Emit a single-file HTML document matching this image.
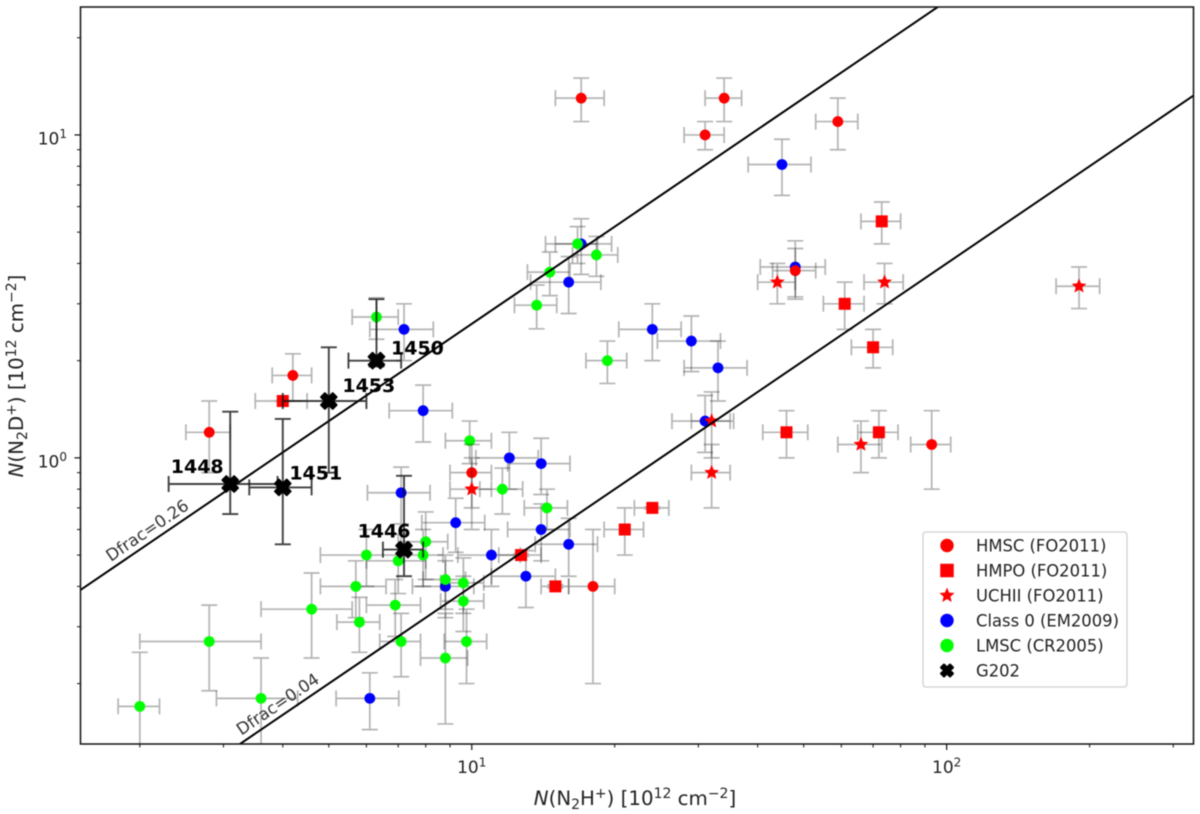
<!DOCTYPE html>
<html lang="en">
<head>
<meta charset="utf-8">
<title>N2D+ versus N2H+ column density</title>
<style>
  html, body { margin: 0; padding: 0; background: #fff; }
  body { width: 1200px; height: 814px; overflow: hidden; }
  svg { display: block; filter: blur(0.5px); font-family: "DejaVu Sans", "Liberation Sans", sans-serif; }
</style>
</head>
<body>
<svg id="chart" xmlns="http://www.w3.org/2000/svg" width="1200" height="814" viewBox="0 0 1200 814">
  <defs>
    <clipPath id="plot-clip"><rect x="80.5" y="7" width="1113" height="737"></rect></clipPath>
  </defs>
  <rect x="80.5" y="7" width="1113" height="737" fill="#fff"></rect>
  <g id="error-layer" clip-path="url(#plot-clip)"></g>
  <g id="line-layer" clip-path="url(#plot-clip)"></g>
  <g id="g202-layer" clip-path="url(#plot-clip)"></g>
  <g id="label-layer"></g>
  <rect x="80.5" y="7" width="1113" height="737" fill="none" stroke="#111" stroke-width="1.5"></rect>
  <g id="axis-layer"></g>
  <text x="635" y="805" text-anchor="middle" font-size="19.8" fill="#222"><tspan font-style="italic">N</tspan>(N<tspan font-size="14" dy="4">2</tspan><tspan dy="-4">H</tspan><tspan font-size="14" dy="-7">+</tspan><tspan dy="7">) [10</tspan><tspan font-size="14" dy="-7">12</tspan><tspan dy="7"> cm</tspan><tspan font-size="14" dy="-7">−2</tspan><tspan dy="7">]</tspan></text>
  <text transform="translate(23 376) rotate(-90)" text-anchor="middle" font-size="19.8" fill="#222"><tspan font-style="italic">N</tspan>(N<tspan font-size="14" dy="4">2</tspan><tspan dy="-4">D</tspan><tspan font-size="14" dy="-7">+</tspan><tspan dy="7">) [10</tspan><tspan font-size="14" dy="-7">12</tspan><tspan dy="7"> cm</tspan><tspan font-size="14" dy="-7">−2</tspan><tspan dy="7">]</tspan></text>
  <g id="legend"></g>
</svg>
<script>
// ---- chart data (values in units of 10^12 cm^-2) ----
const hmscX = [17, 34, 31, 59, 48, 4.2, 2.8, 10, 18, 93];
const hmscY = [13, 13, 10, 11, 3.8, 1.8, 1.2, 0.9, 0.4, 1.1];
const hmscXErr = [2, 3, 3, 6, 5, 0.4, 0.3, 1, 2, 9];
const hmscYErr = [2, 2, 1, 2, 0.65, 0.3, 0.3, 0.2, 0.2, 0.3];

const hmpoX = [73, 61, 70, 46, 72, 24, 21, 12.7, 15, 4];
const hmpoY = [5.4, 3, 2.2, 1.2, 1.2, 0.7, 0.6, 0.5, 0.4, 1.5];
const hmpoXErr = [7, 6, 7, 5, 7, 2, 2, 1.3, 1, 0.5];
const hmpoYErr = [0.8, 0.5, 0.3, 0.2, 0.2, 0.005, 0.1, 0.005, 0.005, 0.005];

const uchiiX = [44, 74, 190, 32, 32, 66, 10];
const uchiiY = [3.5, 3.5, 3.4, 1.3, 0.9, 1.1, 0.8];
const uchiiXErr = [4, 7, 20, 3, 3, 7, 1];
const uchiiYErr = [0.5, 0.5, 0.5, 0.3, 0.2, 0.2, 0.2];

const class0X = [45, 48, 17, 16, 24, 29, 33, 31, 7.2, 7.9, 7.1, 9.25, 12, 14, 14, 16, 11, 13, 8.8, 6.1];
const class0Y = [8.1, 3.9, 4.6, 3.5, 2.5, 2.3, 1.9, 1.3, 2.5, 1.4, 0.78, 0.63, 1, 0.96, 0.6, 0.54, 0.5, 0.43, 0.4, 0.18];
const class0XErr = [6.8, 7.5, 2.7, 2.7, 3.6, 4.4, 5, 4.6, 1.1, 1.2, 1.07, 1.4, 1.8, 2.1, 2.1, 2.4, 1.65, 2, 1.3, 0.92];
const class0YErr = [1.6, 0.8, 0.9, 0.7, 0.5, 0.45, 0.4, 0.26, 0.5, 0.28, 0.156, 0.12, 0.2, 0.19, 0.12, 0.11, 0.1, 0.086, 0.08, 0.036];

const lmscX = [16.7, 18.3, 14.6, 13.7, 19.3, 6.3, 9.9, 11.6, 14.4, 8, 6, 7, 7.9, 5.7, 5.8, 4.6, 2.8, 3.6, 2, 7.1, 8.8, 9.6, 9.6, 9.75, 8.8, 6.9];
const lmscY = [4.6, 4.25, 3.76, 2.97, 2, 2.73, 1.13, 0.8, 0.7, 0.55, 0.5, 0.48, 0.5, 0.4, 0.31, 0.34, 0.27, 0.18, 0.17, 0.27, 0.42, 0.41, 0.36, 0.27, 0.24, 0.35];
const lmscXErr = [1.7, 2, 1.5, 1.4, 1.9, 0.7, 1.1, 1.2, 1.5, 0.9, 1.2, 1, 0.8, 0.9, 0.6, 1, 0.8, 0.7, 0.2, 0.7, 0.9, 1, 1, 1, 1, 0.9];
const lmscYErr = [0.6, 0.6, 0.58, 0.46, 0.3, 0.4, 0.17, 0.13, 0.1, 0.13, 0.1, 0.1, 0.1, 0.08, 0.06, 0.1, 0.08, 0.06, 0.08, 0.06, 0.08, 0.08, 0.07, 0.07, 0.09, 0.07];

const g202Labels = ["1448", "1451", "1453", "1450", "1446"];
const g202X = [3.1, 4, 5, 6.3, 7.2];
const g202Y = [0.83, 0.81, 1.5, 2, 0.52];
const g202XErr = [0.8, 0.6, 1, 0.8, 0.7];
const g202YErrLow = [0.16, 0.27, 0.6, 0.08, 0.09];
const g202YErrHigh = [0.56, 0.51, 0.7, 1.1, 0.36];

const dfracValues = [0.26, 0.04];
const dfracLabelH = [2.14, 4.03];

const xDomain = [1.5, 331];
const yDomain = [0.13, 24.9];
const xMajorTicks = [10, 100];
const xMajorExponents = ["1", "2"];
const xMinorTicks = [2, 3, 4, 5, 6, 7, 8, 9, 20, 30, 40, 50, 60, 70, 80, 90, 200, 300];
const yMajorTicks = [1, 10];
const yMajorExponents = ["0", "1"];
const yMinorTicks = [0.2, 0.3, 0.4, 0.5, 0.6, 0.7, 0.8, 0.9, 2, 3, 4, 5, 6, 7, 8, 9, 20];

const legendLabels = ["HMSC (FO2011)", "HMPO (FO2011)", "UCHII (FO2011)", "Class 0 (EM2009)", "LMSC (CR2005)", "G202"];

// ---- axis functions ----
const NS = "http://www.w3.org/2000/svg";
const xPx = [80.5, 1193.5];
const yPx = [744, 7];
function xScale(v) {
  return xPx[0] + (xPx[1] - xPx[0]) * Math.log10(v / xDomain[0]) / Math.log10(xDomain[1] / xDomain[0]);
}
function yScale(v) {
  return yPx[0] + (yPx[1] - yPx[0]) * Math.log10(v / yDomain[0]) / Math.log10(yDomain[1] / yDomain[0]);
}
function make(tag, attrs, parent) {
  const node = document.createElementNS(NS, tag);
  for (const k in attrs) node.setAttribute(k, attrs[k]);
  parent.appendChild(node);
  return node;
}
function starPoints(cx, cy, r) {
  const pts = [];
  for (let i = 0; i < 10; i++) {
    const rad = i % 2 === 0 ? r : r * 0.45;
    const a = -Math.PI / 2 + i * Math.PI / 5;
    pts.push((cx + rad * Math.cos(a)).toFixed(2) + "," + (cy + rad * Math.sin(a)).toFixed(2));
  }
  return pts.join(" ");
}
function xPoints(cx, cy, s) {
  const shape = [[-1,-2],[0,-1],[1,-2],[2,-1],[1,0],[2,1],[1,2],[0,1],[-1,2],[-2,1],[-1,0],[-2,-1]];
  return shape.map(function (p) { return (cx + p[0] * s).toFixed(2) + "," + (cy + p[1] * s).toFixed(2); }).join(" ");
}
function drawMarker(kind, cx, cy, color, parent, big) {
  let node;
  if (kind === "circle") {
    node = make("circle", { cx: cx, cy: cy, r: big ? 6.7 : 5.4, fill: color }, parent);
  } else if (kind === "square") {
    const s = big ? 13.5 : 12;
    node = make("rect", { x: cx - s / 2, y: cy - s / 2, width: s, height: s, fill: color }, parent);
  } else if (kind === "star") {
    node = make("polygon", { points: starPoints(cx, cy, big ? 8 : 7.8), fill: color }, parent);
  } else {
    node = make("polygon", { points: xPoints(cx, cy, big ? 3 : 3.9), fill: color, stroke: color, "stroke-width": 2, "stroke-linejoin": "round" }, parent);
  }
  return node;
}
function drawErrorBars(px, py, left, right, top, bottom, color, opacity, width, parent) {
  const cap = 8;
  const path = [
    "M", left, py, "L", right, py,
    "M", px, top, "L", px, bottom,
    "M", left, py - cap, "L", left, py + cap,
    "M", right, py - cap, "L", right, py + cap,
    "M", px - cap, top, "L", px + cap, top,
    "M", px - cap, bottom, "L", px + cap, bottom
  ].join(" ");
  return make("path", { d: path, fill: "none", stroke: color, "stroke-opacity": opacity, "stroke-width": width }, parent);
}
function drawSeries(key, kind, color, xs, ys, xErr, yLow, yHigh, barColor, barOpacity, barWidth, layerId) {
  const layer = document.getElementById(layerId);
  const group = make("g", {}, layer);
  
  
  xs.forEach(function (xv, i) {
    const px = xScale(xv);
    const py = yScale(ys[i]);
    const left = xScale(Math.max(xv - xErr[i], 0.01));
    const right = xScale(xv + xErr[i]);
    const top = yScale(ys[i] + yHigh[i]);
    const bottom = yScale(Math.max(ys[i] - yLow[i], 0.001));
    const bar = drawErrorBars(px, py, left, right, top, bottom, barColor, barOpacity, barWidth, group);
    
    
  });
  xs.forEach(function (xv, i) {
    const mark = drawMarker(kind, xScale(xv), yScale(ys[i]), color, group, false);
    
    
  });
}

// draw order: blue and green below red, G202 on top
drawSeries("class-0", "circle", "#0000ff", class0X, class0Y, class0XErr, class0YErr, class0YErr, "#222", 0.34, 1.7, "error-layer");
drawSeries("lmsc", "circle", "#00ff00", lmscX, lmscY, lmscXErr, lmscYErr, lmscYErr, "#222", 0.34, 1.7, "error-layer");
drawSeries("hmsc", "circle", "#ff0000", hmscX, hmscY, hmscXErr, hmscYErr, hmscYErr, "#222", 0.34, 1.7, "error-layer");
drawSeries("hmpo", "square", "#ff0000", hmpoX, hmpoY, hmpoXErr, hmpoYErr, hmpoYErr, "#222", 0.34, 1.7, "error-layer");
drawSeries("uchii", "star", "#ff0000", uchiiX, uchiiY, uchiiXErr, uchiiYErr, uchiiYErr, "#222", 0.34, 1.7, "error-layer");

// Dfrac reference lines: N(N2D+) = Dfrac * N(N2H+)
const lineLayer = document.getElementById("line-layer");
const labelLayer = document.getElementById("label-layer");
const lineSlopeAngle = Math.atan2(yScale(1) - yScale(10), xScale(10) - xScale(1)) * 180 / Math.PI;
dfracValues.forEach(function (d, i) {
  const line = make("line", {
    x1: xScale(xDomain[0]), y1: yScale(d * xDomain[0]),
    x2: xScale(xDomain[1]), y2: yScale(d * xDomain[1]),
    stroke: "#000", "stroke-width": 2
  }, lineLayer);
  
  
  const lx = xScale(dfracLabelH[i]);
  const ly = yScale(d * dfracLabelH[i]);
  const label = make("text", {
    transform: "translate(" + lx + " " + ly + ") rotate(" + (-lineSlopeAngle) + ")",
    "text-anchor": "middle", y: -6, "font-size": 16.6, fill: "#333"
  }, labelLayer);
  label.textContent = "Dfrac=" + d.toFixed(2);
  
  
});

// G202 on top of lines
drawSeries("g202", "x", "#000000", g202X, g202Y, g202XErr, g202YErrLow, g202YErrHigh, "#111", 0.8, 1.9, "g202-layer");
g202Labels.forEach(function (txt, i) {
  const shift = [[-33, -11], [33, -8], [40, -9], [41, -6], [-20, -12]][i];
  const t = make("text", {
    x: xScale(g202X[i]) + shift[0], y: yScale(g202Y[i]) + shift[1],
    "text-anchor": "middle", "font-size": 19, "font-weight": "bold", fill: "#000"
  }, labelLayer);
  t.textContent = txt;
  
  
});

// axes
const axisLayer = document.getElementById("axis-layer");
function tickLabel(parent, x, y, anchor, exponent) {
  const t = make("text", { x: x, y: y, "text-anchor": anchor, "font-size": 17, fill: "#222" }, parent);
  const exp = make("tspan", { "font-size": 12, dy: -6.5 }, t);
  t.insertBefore(document.createTextNode("10"), exp);
  exp.textContent = exponent;
  return t;
}
xMajorTicks.forEach(function (v, i) {
  const px = xScale(v);
  const tick = make("line", { x1: px, x2: px, y1: 744, y2: 750, stroke: "#111", "stroke-width": 1.2 }, axisLayer);
  
  
  const lab = tickLabel(axisLayer, px, 773, "middle", xMajorExponents[i]);
  
  
});
xMinorTicks.forEach(function (v) {
  const px = xScale(v);
  const tick = make("line", { x1: px, x2: px, y1: 744, y2: 747.5, stroke: "#111", "stroke-width": 1 }, axisLayer);
  
  
});
yMajorTicks.forEach(function (v, i) {
  const py = yScale(v);
  const tick = make("line", { x1: 74.5, x2: 80.5, y1: py, y2: py, stroke: "#111", "stroke-width": 1.2 }, axisLayer);
  
  
  const lab = tickLabel(axisLayer, 67, py + 9.5, "end", yMajorExponents[i]);
  
  
});
yMinorTicks.forEach(function (v) {
  const py = yScale(v);
  const tick = make("line", { x1: 77, x2: 80.5, y1: py, y2: py, stroke: "#111", "stroke-width": 1 }, axisLayer);
  
  
});

// legend
const legend = document.getElementById("legend");
const legendBox = make("rect", { x: 923, y: 532, width: 204, height: 155, rx: 3, fill: "#fff", "fill-opacity": 0.85, stroke: "#d0d0d0", "stroke-width": 1.3 }, legend);


const legendKinds = ["circle", "square", "star", "circle", "circle", "x"];
const legendColors = ["#ff0000", "#ff0000", "#ff0000", "#0000ff", "#00ff00", "#000000"];
legendLabels.forEach(function (txt, i) {
  const row = make("g", {}, legend);
  
  
  const ry = 545.5 + i * 25;
  const m = drawMarker(legendKinds[i], 947, ry, legendColors[i], row, true);
  
  
  const t = make("text", { x: 976, y: ry + 6, "font-size": 16.4, fill: "#222" }, row);
  t.textContent = txt;
  
  
});
</script>
</body>
</html>
